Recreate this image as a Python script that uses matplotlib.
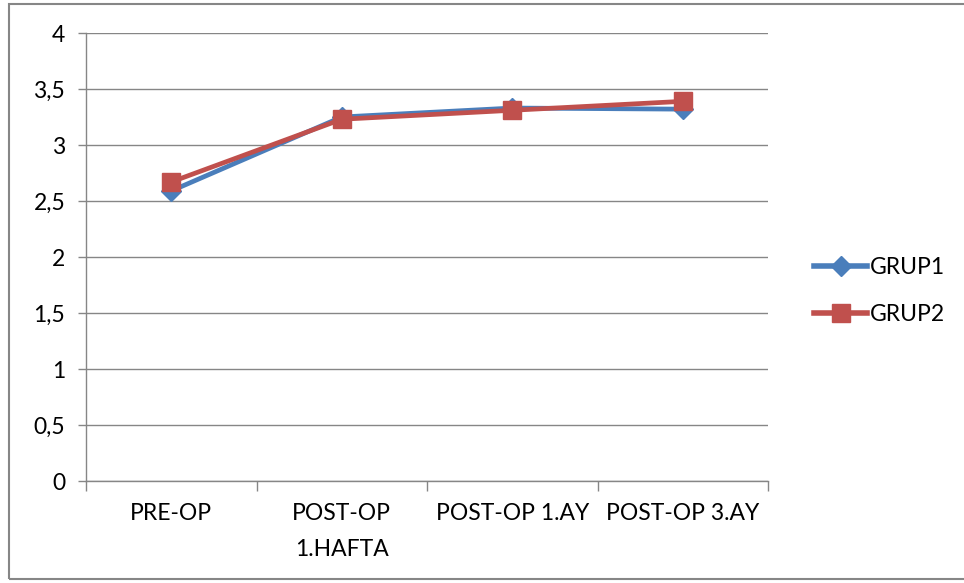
import matplotlib
matplotlib.use("Agg")
import matplotlib.pyplot as plt
from matplotlib.patches import Rectangle
from matplotlib.lines import Line2D

plt.rcParams['font.family'] = ['Lato', 'DejaVu Sans']

kategoriler = ["PRE-OP", "POST-OP\n1.HAFTA", "POST-OP 1.AY", "POST-OP 3.AY"]
grup1 = [2.59, 3.25, 3.33, 3.32]
grup2 = [2.67, 3.23, 3.31, 3.39]
y_etiketler = ["0", "0,5", "1", "1,5", "2", "2,5", "3", "3,5", "4"]

mavi = "#4A7EBB"
kirmizi = "#C0504D"
gri = "#868686"
fs = 16.5

fig = plt.figure(figsize=(9.64, 5.83), dpi=100)
ax = fig.add_axes([86/964, 1-481/583, (768-86)/964, (481-33)/583])

x = [i + 0.5 for i in range(len(kategoriler))]
ax.plot(x, grup1, color=mavi, lw=3.4, marker="D", ms=10.5, mfc=mavi, mec=mavi, label="GRUP1", zorder=3)
ax.plot(x, grup2, color=kirmizi, lw=3.4, marker="s", ms=13, mfc=kirmizi, mec=kirmizi, label="GRUP2", zorder=4)

ax.set_xlim(0, 4)
ax.set_ylim(0, 4)
ax.set_yticks([i * 0.5 for i in range(9)])
ax.set_yticklabels(y_etiketler)
ax.set_xticks(x)
ax.set_xticklabels(kategoriler, linespacing=1.85)
ax.set_xticks(range(5), minor=True)
ax.tick_params(axis="x", which="major", length=0, pad=16, labelsize=fs)
ax.tick_params(axis="x", which="minor", length=7, color=gri, width=1)
ax.tick_params(axis="y", length=6, color=gri, width=1, pad=9, labelsize=fs)

ax.grid(axis="y", color=gri, lw=1)
ax.set_axisbelow(True)
for s in ["top", "right"]:
    ax.spines[s].set_visible(False)
for s in ["left", "bottom"]:
    ax.spines[s].set_color(gri)
    ax.spines[s].set_linewidth(1)

# grafik alanı çerçevesi (sağ kenar görüntünün dışında kalıyor)
fig.patches.append(Rectangle((9/964, 1-579/583), (990-9)/964, (579-4)/583,
                             transform=fig.transFigure, fill=False, ec=gri, lw=1.5))

fig.legend(handles=[
    Line2D([], [], color=mavi, lw=4, marker="D", ms=10.5, mec=mavi),
    Line2D([], [], color=kirmizi, lw=4, marker="s", ms=13, mec=kirmizi)],
    labels=["GRUP1", "GRUP2"], loc="center left", bbox_to_anchor=(793/964, 1-291/583),
    frameon=False, fontsize=fs, handlelength=2.35, handletextpad=0.1, labelspacing=1.15)

fig.savefig("out.png", dpi=100)
